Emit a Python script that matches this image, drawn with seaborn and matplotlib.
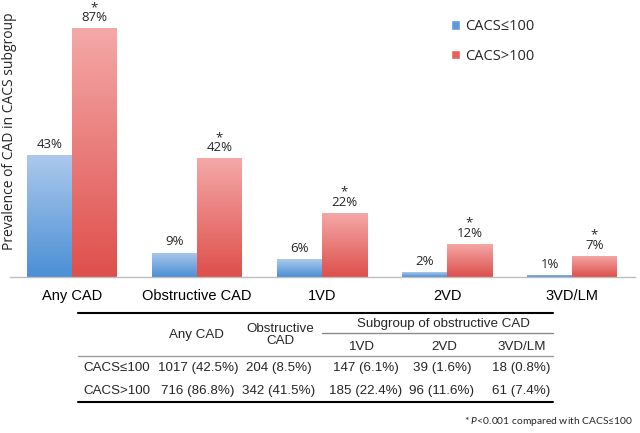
import numpy as np
import pandas as pd
import matplotlib
matplotlib.use("Agg")
import matplotlib.pyplot as plt
import seaborn as sns
from matplotlib.colors import LinearSegmentedColormap
from matplotlib.lines import Line2D

# ---------------- data ----------------
categories = ["Any CAD", "Obstructive CAD", "1VD", "2VD", "3VD/LM"]
groups = ["CACS≤100", "CACS>100"]
low_pct = [42.5, 8.5, 6.1, 1.6, 0.8]
high_pct = [86.8, 41.5, 22.4, 11.6, 7.4]
low_n = [1017, 204, 147, 39, 18]
high_n = [716, 342, 185, 96, 61]
low_labels = ["43%", "9%", "6%", "2%", "1%"]
high_labels = ["87%", "42%", "22%", "12%", "7%"]
star_labels = ["*", "*", "*", "*", "*"]
table_cols = ["Any CAD", "Obstructive\nCAD", "1VD", "2VD", "3VD/LM"]
subgroup_title = "Subgroup of obstructive CAD"
ylabel = "Prevalence of CAD in CACS subgroup"

# ---------------- style ----------------
sns.set_theme(style="white")
plt.rcParams["font.family"] = ["Open Sans", "DejaVu Sans"]
plt.rcParams["mathtext.fontset"] = "custom"
plt.rcParams["mathtext.it"] = "Lato:italic"
plt.rcParams["mathtext.rm"] = "Lato"

blue_top, blue_bot = "#acc9ec", "#4a8fd5"
red_top, red_bot = "#f4a9a8", "#de4f4b"
blue_mid, red_mid = "#5e9bdb", "#e4615d"

df = pd.DataFrame({
    "category": categories * 2,
    "group": [groups[0]] * len(categories) + [groups[1]] * len(categories),
    "pct": low_pct + high_pct,
})

W, H = 640, 433
def fx(px):
    return px / W
def fy(py):
    return 1 - py / H

fig = plt.figure(figsize=(6.4, 4.33), dpi=100)
ax = fig.add_axes([9.5 / W, fy(277), 625 / W, 277 / H])

sns.barplot(data=df, x="category", y="pct", hue="group", order=categories,
            hue_order=groups, palette=[blue_mid, red_mid], width=0.72, gap=0,
            saturation=1, errorbar=None, ax=ax)

ax.set_xlim(-0.5, 4.5)
ax.set_ylim(0, 96.5)

# gradient fill for each bar
grad = np.linspace(0, 1, 256).reshape(-1, 1)
for cont, (top, bot) in zip(ax.containers, [(blue_top, blue_bot), (red_top, red_bot)]):
    cmap = LinearSegmentedColormap.from_list("g", [bot, top])
    for bar in cont:
        x0, y0 = bar.get_x(), bar.get_y()
        w, h = bar.get_width(), bar.get_height()
        im = ax.imshow(grad, extent=[x0, x0 + w, y0, y0 + h], origin="lower",
                       aspect="auto", cmap=cmap, zorder=bar.get_zorder() + 0.1)
        im.set_clip_path(bar)
ax.set_xlim(-0.5, 4.5)
ax.set_ylim(0, 96.5)

ax.bar_label(ax.containers[0], labels=low_labels, padding=3, fontsize=9.5)
red_labels = [f"{s}\n{l}" for s, l in zip(star_labels, high_labels)]
ax.bar_label(ax.containers[1], labels=red_labels, padding=3, fontsize=9.5,
             linespacing=0.68, multialignment="center")

for s in ["top", "right", "left"]:
    ax.spines[s].set_visible(False)
ax.spines["bottom"].set_color("#bdbdbd")
ax.spines["bottom"].set_linewidth(1)
ax.set_yticks([])
ax.set_xlabel("")
ax.set_ylabel("")
ax.tick_params(axis="x", length=0, pad=8.5, labelsize=10.5, colors="black")
for t in ax.get_xticklabels():
    t.set_fontfamily(["Liberation Sans", "DejaVu Sans"])

handles, labels = ax.get_legend_handles_labels()
ax.legend(handles, labels, loc="upper left", bbox_to_anchor=(fx(451), fy(19)),
          bbox_transform=fig.transFigure, frameon=False, fontsize=10.5,
          handlelength=0.65, handleheight=0.65, handletextpad=0.3,
          labelspacing=1.0, borderpad=0, borderaxespad=0)

fig.text(fx(10), fy(131), ylabel, rotation=90, ha="center", va="center", fontsize=10)

# ---------------- table ----------------
tf = ["Liberation Sans", "DejaVu Sans"]
ts = 9.6
def hline(x0, x1, y, color, lw):
    fig.add_artist(Line2D([fx(x0), fx(x1)], [fy(y), fy(y)], color=color, lw=lw,
                          transform=fig.transFigure))

hline(78, 553, 312.5, "black", 1.5)
hline(322, 553, 333, "#8a8a8a", 1.0)
hline(78, 553, 356, "#9a9a9a", 1.0)
hline(78, 553, 401.5, "black", 1.5)

col_x = [198, 279, 366, 442, 521]
fig.text(fx(196), fy(335), table_cols[0], ha="center", va="center", fontsize=ts, family=tf)
fig.text(fx(280), fy(335), table_cols[1], ha="center", va="center", fontsize=ts,
         family=tf, linespacing=0.95, multialignment="center")
fig.text(fx(443), fy(324), subgroup_title, ha="center", va="center", fontsize=ts, family=tf)
for lab, x in zip(table_cols[2:], [362, 444, 522]):
    fig.text(fx(x), fy(347), lab, ha="center", va="center", fontsize=ts, family=tf)

row_y = [368, 391]
for gname, ns, ps, y in zip(groups, [low_n, high_n], [low_pct, high_pct], row_y):
    fig.text(fx(83), fy(y), gname, ha="left", va="center", fontsize=ts, family=tf)
    for n, p, x in zip(ns, ps, col_x):
        fig.text(fx(x), fy(y), f"{n} ({p:.1f}%)", ha="center", va="center",
                 fontsize=ts, family=tf)

fig.text(fx(633), fy(421), "* $\\mathit{P}$<0.001 compared with CACS≤100",
         ha="right", va="center", fontsize=7.4, family=["Lato", "DejaVu Sans"])

fig.savefig("out.png", dpi=100)
